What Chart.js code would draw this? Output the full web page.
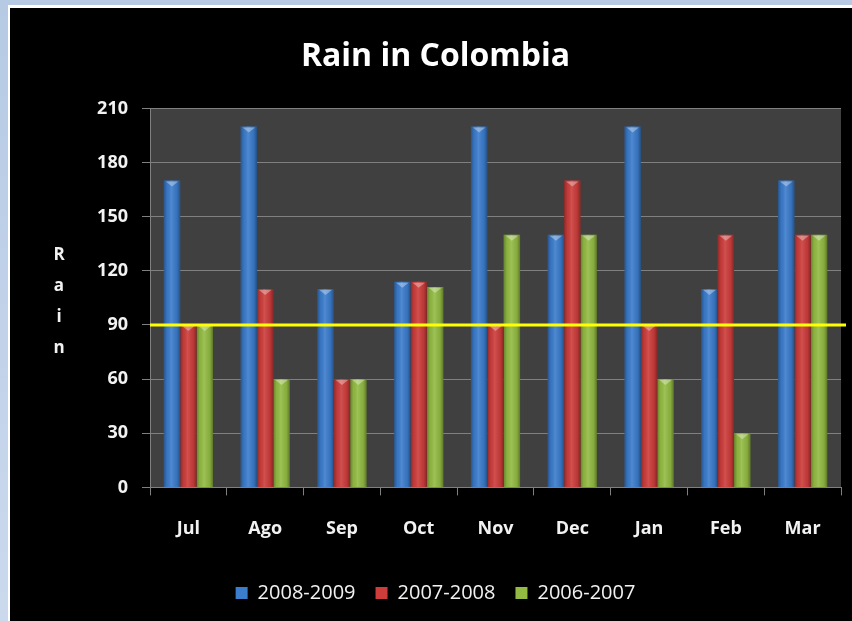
<!DOCTYPE html>
<html>
<head>
<meta charset="utf-8">
<script src="https://cdn.jsdelivr.net/npm/chart.js@4.4.0/dist/chart.umd.min.js"></script>
<style>
  html, body { margin: 0; padding: 0; width: 852px; height: 621px; overflow: hidden; }
  body { background: linear-gradient(#b6cae4, #cbd9ed); }
  #frame {
    position: absolute; left: 8px; top: 5px; width: 844px; height: 616px;
    border-left: 2px solid #fff; border-top: 3px solid #fff; background: #000;
  }
  #wrap { position: absolute; left: 0; top: 0; width: 842px; height: 613px; }
</style>
</head>
<body>
<div id="frame"><div id="wrap"><canvas id="rainChart" width="842" height="613"></canvas></div></div>
<script>
const months = ["Jul", "Ago", "Sep", "Oct", "Nov", "Dec", "Jan", "Feb", "Mar"];
const rain0809 = [170, 200, 110, 114, 200, 140, 200, 110, 170];
const rain0708 = [90, 110, 60, 114, 90, 170, 90, 140, 140];
const rain0607 = [90, 60, 60, 111, 140, 140, 60, 30, 140];
const seriesNames = ["2008-2009", "2007-2008", "2006-2007"];
const yMin = 0, yMax = 210, yStep = 30;
const threshold = 90;

const FONT = "'Open Sans', Lato, sans-serif";
const textColor = "#f2f2f2";
const gridColor = "#808080";

// dark plot background
const plotBg = {
  id: "plotBg",
  beforeDraw(chart) {
    const { ctx, chartArea: a } = chart;
    ctx.save();
    ctx.fillStyle = "#404040";
    ctx.fillRect(a.left, a.top, a.right - a.left, a.bottom - a.top);
    ctx.restore();
  }
};

// shading + little caps on bars, then the yellow 90 line
const barShine = {
  id: "barShine",
  afterDatasetsDraw(chart) {
    const ctx = chart.ctx;
    ctx.save();
    chart.data.datasets.forEach((ds, i) => {
      chart.getDatasetMeta(i).data.forEach(bar => {
        const { x, y, base, width } = bar.getProps(["x", "y", "base", "width"], true);
        const l = x - width / 2;
        let g = ctx.createLinearGradient(l, 0, l + width, 0);
        g.addColorStop(0, "rgba(0,0,0,0.30)");
        g.addColorStop(0.2, "rgba(0,0,0,0.05)");
        g.addColorStop(0.45, "rgba(255,255,255,0.10)");
        g.addColorStop(0.8, "rgba(0,0,0,0.08)");
        g.addColorStop(1, "rgba(0,0,0,0.35)");
        ctx.fillStyle = g;
        ctx.fillRect(l, y, width, base - y);
        ctx.fillStyle = "rgba(255,255,255,0.35)";
        ctx.beginPath();
        ctx.moveTo(l + 2, y + 1);
        ctx.lineTo(l + width - 2, y + 1);
        ctx.lineTo(x, y + 6);
        ctx.closePath();
        ctx.fill();
      });
    });
    const a = chart.chartArea;
    const yy = chart.scales.y.getPixelForValue(threshold);
    ctx.strokeStyle = "#ffff00";
    ctx.lineWidth = 3;
    ctx.beginPath();
    ctx.moveTo(a.left, yy);
    ctx.lineTo(a.right + 5, yy);
    ctx.stroke();
    ctx.restore();
  }
};

// stacked vertical axis title
const stackedTitle = {
  id: "stackedTitle",
  afterDraw(chart) {
    const ctx = chart.ctx;
    const letters = "Rain".split("");
    ctx.save();
    ctx.fillStyle = textColor;
    ctx.font = "bold 17px " + FONT;
    ctx.textAlign = "center";
    ctx.textBaseline = "middle";
    letters.forEach((ch, i) => ctx.fillText(ch, 49, 247 + i * 31));
    ctx.restore();
  }
};

new Chart(document.getElementById("rainChart"), {
  type: "bar",
  data: {
    labels: months,
    datasets: [
      { label: seriesNames[0], data: rain0809, backgroundColor: "#3b7ccc" },
      { label: seriesNames[1], data: rain0708, backgroundColor: "#cc3d3b" },
      { label: seriesNames[2], data: rain0607, backgroundColor: "#93bb43" }
    ]
  },
  options: {
    responsive: false,
    animation: false,
    layout: { padding: { left: 20, right: 11, top: 0, bottom: 8 } },
    datasets: { bar: { categoryPercentage: 0.64, barPercentage: 1.0, borderWidth: 0 } },
    plugins: {
      title: {
        display: true,
        text: "Rain in Colombia",
        color: "#ffffff",
        font: { family: FONT, size: 32, weight: "bold" },
        padding: { top: 30, bottom: 32 }
      },
      legend: {
        position: "bottom",
        labels: {
          color: textColor,
          font: { family: FONT, size: 20 },
          boxWidth: 12, boxHeight: 12,
          padding: 20
        }
      },
      tooltip: { enabled: false }
    },
    scales: {
      x: {
        grid: { display: true, drawOnChartArea: false, drawTicks: true, tickLength: 8, color: gridColor },
        border: { display: true, color: gridColor },
        ticks: { color: textColor, font: { family: FONT, size: 18, weight: "bold" }, padding: 23 }
      },
      y: {
        min: yMin, max: yMax,
        afterFit(scale) { scale.width = 120; },
        grid: { color: gridColor, tickLength: 8 },
        border: { display: true, color: gridColor },
        ticks: { stepSize: yStep, color: textColor, font: { family: FONT, size: 18, weight: "bold" }, padding: 14 }
      }
    }
  },
  plugins: [plotBg, barShine, stackedTitle]
});
</script>
</body>
</html>
